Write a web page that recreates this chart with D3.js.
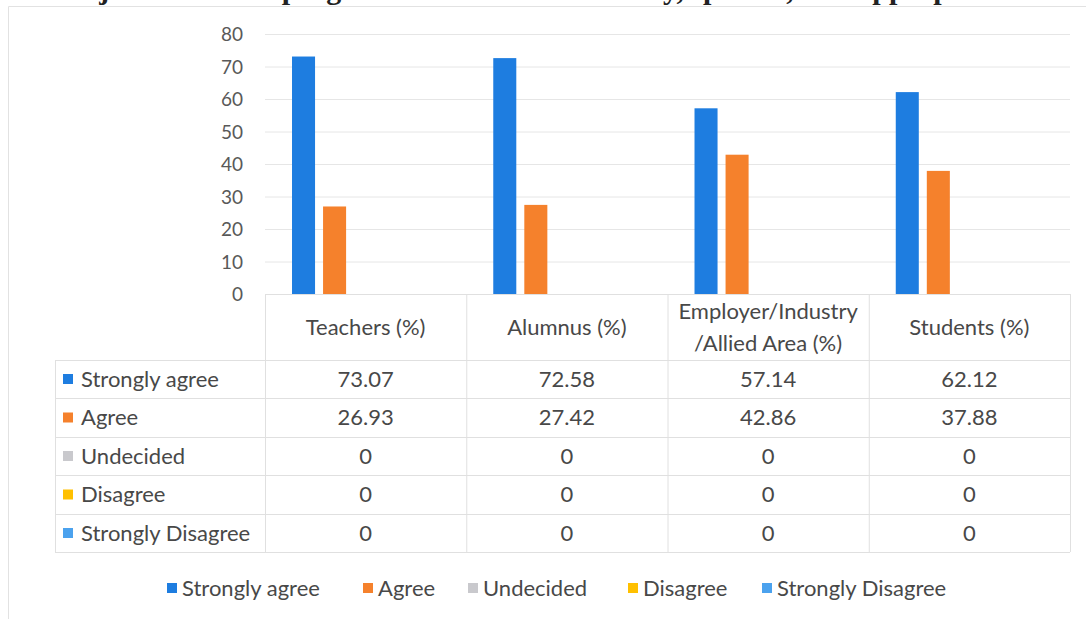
<!DOCTYPE html>
<html><head><meta charset="utf-8">
<script src="https://cdn.jsdelivr.net/npm/d3@7/dist/d3.min.js"></script>
<style>body{margin:0;background:#fff;} svg{display:block;}</style>
</head><body><div id="chart"></div>
<script>
const categories = ["Teachers (%)", "Alumnus (%)", "Employer/Industry\n/Allied Area (%)", "Students (%)"];
const seriesNames = ["Strongly agree", "Agree", "Undecided", "Disagree", "Strongly Disagree"];
const stronglyAgree = [73.07, 72.58, 57.14, 62.12];
const agree = [26.93, 27.42, 42.86, 37.88];
const undecided = [0, 0, 0, 0];
const disagree = [0, 0, 0, 0];
const stronglyDisagree = [0, 0, 0, 0];
const yTicks = [0, 10, 20, 30, 40, 50, 60, 70, 80];
const colors = ["#1e7de0", "#f5812c", "#c9c9cd", "#ffc000", "#4ba2ee"];
const titleText = "The objectives of the programme are defined clearly, specific, and appropriate";

const seriesValues = [stronglyAgree, agree, undecided, disagree, stronglyDisagree];
const W = 1086, H = 619;
const font = "Lato, 'Open Sans', sans-serif";
const fs = 22;
const textColor = "#484848";
const svg = d3.select("#chart").append("svg").attr("width", W).attr("height", H);

// partial title, cut off at the top edge as in the source image
svg.append("text").attr("x", 1010).attr("y", -1).attr("text-anchor", "end")
  .attr("font-family", "'Liberation Serif', serif").attr("font-weight", "bold")
  .attr("font-size", 30).attr("fill", "#222").text(titleText);

// outer frame (only top and left edges visible)
svg.append("line").attr("x1", 8.5).attr("x2", W).attr("y1", 6.5).attr("y2", 6.5).attr("stroke", "#e2e2e2");
svg.append("line").attr("x1", 8.5).attr("x2", 8.5).attr("y1", 6.5).attr("y2", H).attr("stroke", "#e2e2e2");

const pLeft = 265, pRight = 1070, pTop = 34, pBottom = 294;
const x0 = d3.scaleBand().domain(categories).range([pLeft, pRight]);
const x1 = d3.scaleBand().domain(seriesNames).range([0, x0.bandwidth()]).paddingInner(0.258).paddingOuter(0.87);
const y = d3.scaleLinear().domain([0, 80]).range([pBottom, pTop]);

// gridlines
svg.append("g").selectAll("line").data(yTicks.filter(d => d > 0)).join("line")
  .attr("x1", pLeft).attr("x2", pRight).attr("y1", d => y(d) + 0.5).attr("y2", d => y(d) + 0.5)
  .attr("stroke", "#e6e6e6").attr("stroke-width", 1);

// y axis
const yAxis = svg.append("g").attr("transform", `translate(${pLeft - 22},0)`)
  .call(d3.axisLeft(y).tickValues(yTicks).tickSize(0).tickPadding(0));
yAxis.select(".domain").remove();
yAxis.selectAll("text").attr("font-family", font).attr("font-size", 19).attr("fill", "#595959").attr("dy", "0.36em");

// bars
const groups = svg.append("g").selectAll("g").data(categories).join("g")
  .attr("transform", d => `translate(${x0(d)},0)`);
groups.selectAll("rect").data((c, i) => seriesNames.map((s, j) => ({s, v: seriesValues[j][i], j})))
  .join("rect")
  .attr("x", d => x1(d.s)).attr("width", x1.bandwidth())
  .attr("y", d => y(d.v)).attr("height", d => y(0) - y(d.v))
  .attr("fill", d => colors[d.j]);

// data table
const tableLeft = 55;
const rowEdges = [360, 398, 437, 475, 514, 552];
const lineColor = "#e0e0e0";
const tg = svg.append("g");
tg.append("line").attr("x1", pLeft).attr("x2", pRight).attr("y1", pBottom + 0.5).attr("y2", pBottom + 0.5).attr("stroke", lineColor);
tg.selectAll("line.h").data(rowEdges).join("line").attr("class", "h")
  .attr("x1", tableLeft).attr("x2", pRight).attr("y1", d => d + 0.5).attr("y2", d => d + 0.5).attr("stroke", lineColor);
const vEdges = categories.map(c => x0(c)).concat([pRight]);
tg.selectAll("line.v").data(vEdges).join("line").attr("class", "v")
  .attr("x1", d => d + 0.5).attr("x2", d => d + 0.5).attr("y1", pBottom).attr("y2", rowEdges[rowEdges.length - 1]).attr("stroke", lineColor);
tg.append("line").attr("x1", tableLeft + 0.5).attr("x2", tableLeft + 0.5).attr("y1", rowEdges[0]).attr("y2", rowEdges[rowEdges.length - 1]).attr("stroke", lineColor);

// header labels
categories.forEach(c => {
  const lines = c.split("\n");
  const cx = x0(c) + x0.bandwidth() / 2;
  const cy = (pBottom + rowEdges[0]) / 2;
  const t = tg.append("text").attr("x", cx).attr("text-anchor", "middle")
    .attr("font-family", font).attr("font-size", fs).attr("fill", textColor);
  lines.forEach((ln, k) => {
    t.append("tspan").attr("x", cx).attr("y", cy + (k - (lines.length - 1) / 2) * 32).attr("dy", "0.36em").text(ln);
  });
});

// rows
seriesNames.forEach((s, j) => {
  const cy = (rowEdges[j] + rowEdges[j + 1]) / 2;
  tg.append("rect").attr("x", 63).attr("y", cy - 5).attr("width", 10).attr("height", 10).attr("fill", colors[j]);
  tg.append("text").attr("x", 81).attr("y", cy).attr("dy", "0.36em")
    .attr("font-family", font).attr("font-size", fs).attr("fill", textColor).text(s);
  categories.forEach((c, i) => {
    tg.append("text").attr("x", x0(c) + x0.bandwidth() / 2).attr("y", cy).attr("dy", "0.36em")
      .attr("text-anchor", "middle").attr("font-family", font).attr("font-size", fs).attr("fill", textColor)
      .text(seriesValues[j][i]);
  });
});

// legend
const legendX = [167, 363, 468, 628, 762];
const lg = svg.append("g");
seriesNames.forEach((s, j) => {
  lg.append("rect").attr("x", legendX[j]).attr("y", 583).attr("width", 10).attr("height", 10).attr("fill", colors[j]);
  lg.append("text").attr("x", legendX[j] + 15).attr("y", 588).attr("dy", "0.36em")
    .attr("font-family", font).attr("font-size", fs).attr("fill", textColor).text(s);
});
</script></body></html>
